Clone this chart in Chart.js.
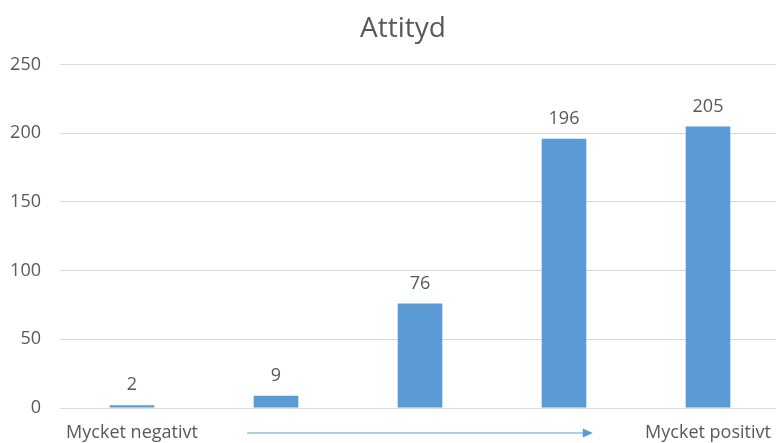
<!DOCTYPE html>
<html>
<head>
<meta charset="utf-8">
<script src="https://cdn.jsdelivr.net/npm/chart.js@4/dist/chart.umd.min.js"></script>
<style>
  html, body { margin: 0; padding: 0; overflow: hidden; background: #fff; }
  #mybar { display: block; }
</style>
</head>
<body>
<canvas id="mybar" width="784" height="443"></canvas>
<script>
var categories = ['Mycket negativt', '', '', '', 'Mycket positivt']
var counts = [2, 9, 76, 196, 205]
var yTicks = [0, 50, 100, 150, 200, 250]

var textColor = '#595959'
var barColor = '#5b9bd5'
var fontName = 'Open Sans'

// value labels above each bar
var valueLabels = {
    id: 'valueLabels',
    afterDatasetsDraw(chart) {
        var ctx = chart.ctx
        var meta = chart.getDatasetMeta(0)
        ctx.save()
        ctx.fillStyle = textColor
        ctx.font = '18px "' + fontName + '"'
        ctx.textAlign = 'center'
        ctx.textBaseline = 'bottom'
        meta.data.forEach((bar, i) => {
            ctx.fillText(counts[i], bar.x, bar.y - 11)
        })
        ctx.restore()
    }
}

// arrow between the two end labels
var arrow = {
    id: 'arrow',
    afterDraw(chart) {
        var ctx = chart.ctx
        var x = chart.scales.x
        var x1 = x.getPixelForValue(0.8)
        var x2 = x.getPixelForValue(3.2)
        var y = chart.chartArea.bottom + 25
        ctx.save()
        ctx.strokeStyle = barColor
        ctx.fillStyle = barColor
        ctx.lineWidth = 1
        ctx.beginPath()
        ctx.moveTo(x1, y)
        ctx.lineTo(x2 - 8, y)
        ctx.stroke()
        ctx.beginPath()
        ctx.moveTo(x2, y)
        ctx.lineTo(x2 - 10, y - 4.5)
        ctx.lineTo(x2 - 10, y + 4.5)
        ctx.closePath()
        ctx.fill()
        ctx.restore()
    }
}

// nudge the title box a bit to the right, like the original
var titleShift = {
    id: 'titleShift',
    afterLayout(chart) {
        if (chart.titleBlock) {
            chart.titleBlock.left += 18
        }
    }
}

var mybar = new Chart(document.getElementById('mybar'), {
    type: 'bar',
    data: {
        labels: categories,
        datasets: [{
            label: 'Attityd',
            data: counts,
            backgroundColor: barColor,
            barPercentage: 0.31,
            categoryPercentage: 1
        }]
    },
    options: {
        responsive: false,
        animation: false,
        layout: { padding: { left: 8, right: 4, top: 0, bottom: 0 } },
        plugins: {
            legend: { display: false },
            tooltip: { enabled: false },
            title: {
                display: true,
                text: 'Attityd',
                color: textColor,
                font: { family: fontName, size: 28, weight: 'normal' },
                padding: { top: 12, bottom: 19 }
            }
        },
        scales: {
            x: {
                afterFit: (axis) => {
                    axis.height = 35
                    axis.paddingLeft = 0
                    axis.paddingRight = 0
                },
                grid: { display: false, drawTicks: false },
                border: { color: '#d9d9d9' },
                ticks: {
                    color: textColor,
                    font: { family: fontName, size: 18 },
                    maxRotation: 0,
                    autoSkip: false,
                    padding: 14
                }
            },
            y: {
                min: yTicks[0],
                max: yTicks[yTicks.length - 1],
                afterBuildTicks: (axis) => { axis.ticks = yTicks.map(v => ({ value: v })) },
                afterFit: (axis) => { axis.width = 52 },
                grid: { color: '#d9d9d9', drawTicks: false },
                border: { display: false },
                ticks: {
                    color: textColor,
                    font: { family: fontName, size: 18 },
                    padding: 19
                }
            }
        }
    },
    plugins: [valueLabels, arrow, titleShift]
})
</script>
</body>
</html>
